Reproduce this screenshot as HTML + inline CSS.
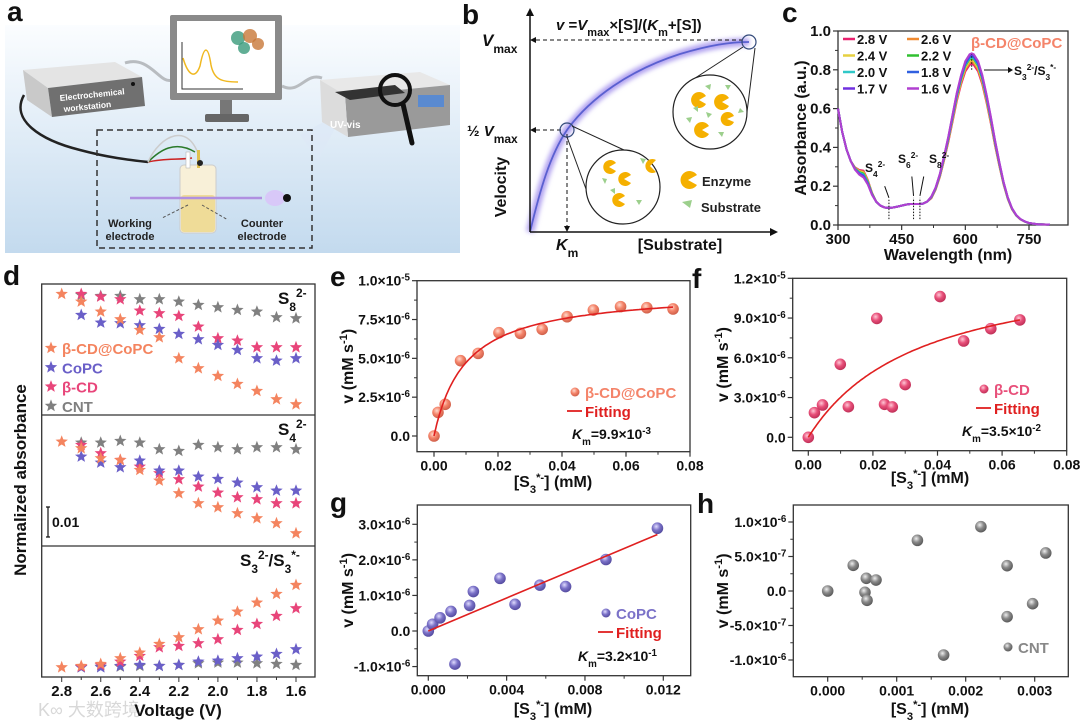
<!DOCTYPE html>
<html><head><meta charset="utf-8"><style>
html,body{margin:0;padding:0;background:#fff;}
svg{display:block;font-family:"Liberation Sans","Noto Sans CJK SC",sans-serif;}
</style></head><body>
<svg id="fig" width="1080" height="721" viewBox="0 0 1080 721" xmlns="http://www.w3.org/2000/svg">
<defs>
<linearGradient id="bgA" x1="0" y1="0" x2="0" y2="1"><stop offset="0" stop-color="#fbfdff"/><stop offset="1" stop-color="#c3daee"/></linearGradient>
<radialGradient id="ballE" cx="40%" cy="35%" r="65%"><stop offset="0" stop-color="#ffd9cc"/><stop offset="0.5" stop-color="#f4846a"/><stop offset="1" stop-color="#d0604a"/></radialGradient>
<radialGradient id="ballF" cx="40%" cy="35%" r="65%"><stop offset="0" stop-color="#ffc8d6"/><stop offset="0.5" stop-color="#e8507a"/><stop offset="1" stop-color="#c03058"/></radialGradient>
<radialGradient id="ballG" cx="40%" cy="35%" r="65%"><stop offset="0" stop-color="#e0dcff"/><stop offset="0.5" stop-color="#7b72c8"/><stop offset="1" stop-color="#554ca0"/></radialGradient>
<radialGradient id="ballH" cx="40%" cy="35%" r="65%"><stop offset="0" stop-color="#eeeeee"/><stop offset="0.5" stop-color="#8a8a8a"/><stop offset="1" stop-color="#5a5a5a"/></radialGradient>
<filter id="glow"><feGaussianBlur stdDeviation="2.5"/></filter>
</defs>

<!-- Panel a -->
<g>
<rect x="5" y="25" width="455" height="228" fill="url(#bgA)"/>
<path d="M125,63 C150,55 160,85 172,80" stroke="#b8bcc0" stroke-width="3" fill="none"/>
<path d="M282,86 C300,95 305,72 322,78" stroke="#b8bcc0" stroke-width="3" fill="none"/>
<g>
<polygon points="23,70 115,62 142,77 48,88" fill="#e4e4e4"/>
<polygon points="23,70 48,88 52,117 27,100" fill="#c9c9c9"/>
<polygon points="48,88 142,77 145,106 52,117" fill="#707070"/>
<circle cx="133" cy="84" r="2" fill="#111"/>
<text x="60" y="101" font-size="8.5" fill="#fff" font-weight="bold" transform="rotate(-6 60 101)">Electrochemical</text>
<text x="64" y="112" font-size="8.5" fill="#fff" font-weight="bold" transform="rotate(-6 64 112)">workstation</text>
</g>
<path d="M24,95 C10,120 40,140 80,150 C110,158 130,160 148,162" stroke="#222" stroke-width="2.5" fill="none"/>
<g>
<rect x="170" y="15" width="112" height="85" fill="#8a8a8a" rx="2"/>
<rect x="177" y="21" width="98" height="72" fill="#fff"/>
<rect x="220" y="100" width="12" height="15" fill="#777"/>
<rect x="205" y="114" width="44" height="8" fill="#666" rx="2"/>
<path d="M182,42 L182,89 L243,89" stroke="#333" stroke-width="1" fill="none"/>
<path d="M183,58 C188,75 195,80 200,66 C204,45 208,45 211,65 C214,80 222,82 238,82" stroke="#f0b820" stroke-width="1.5" fill="none"/>
<circle cx="238" cy="38" r="7" fill="#3a9a7a" opacity="0.8"/><circle cx="250" cy="36" r="7" fill="#c87838" opacity="0.8"/><circle cx="258" cy="44" r="6" fill="#c87838" opacity="0.8"/><circle cx="244" cy="48" r="6" fill="#3a9a7a" opacity="0.8"/>
</g>
<polygon points="300,135 345,110 318,160" fill="#dde8f6" opacity="0.7"/>
<g>
<polygon points="320,80 420,72 450,85 345,95" fill="#e8e8e8"/>
<polygon points="345,95 450,85 450,125 348,137" fill="#9a9a9a"/>
<polygon points="320,80 345,95 348,137 322,122" fill="#dcdcdc"/>
<polygon points="335,92 395,85 405,93 350,100" fill="#333"/>
<rect x="418" y="95" width="26" height="12" fill="#5a8ad0"/>
<text x="330" y="128" font-size="10" fill="#fff" font-weight="bold">UV-vis</text>
<circle cx="395" cy="90" r="15" fill="none" stroke="#111" stroke-width="4"/>
<line x1="403" y1="104" x2="412" y2="143" stroke="#111" stroke-width="5" stroke-linecap="round"/>
</g>
<rect x="97" y="130" width="215" height="118" fill="none" stroke="#333" stroke-width="1.5" stroke-dasharray="6,4"/>
<g>
<path d="M148,162 C165,158 178,160 192,158" stroke="#cc2222" stroke-width="1.5" fill="none"/>
<path d="M148,162 C160,150 175,140 195,152" stroke="#2a7a2a" stroke-width="1.5" fill="none"/>
<path d="M148,162 C160,135 190,120 200,160" stroke="#ccc" stroke-width="1.5" fill="none"/>
<rect x="180" y="165" width="36" height="68" rx="4" fill="#f8f0d8" stroke="#ccc"/>
<rect x="181" y="195" width="34" height="37" rx="3" fill="#efdc98"/>
<rect x="186" y="152" width="4" height="16" fill="#fff" stroke="#aaa" stroke-width="0.5"/>
<rect x="197" y="150" width="3" height="18" fill="#e0c050"/>
<circle cx="200" cy="163" r="3" fill="#222"/>
</g>
<line x1="130" y1="198" x2="262" y2="198" stroke="#b090e0" stroke-width="2.5"/>
<g><ellipse cx="275" cy="198" rx="10" ry="8" fill="#d8c8f8"/><circle cx="287" cy="198" r="4" fill="#111"/></g>
<line x1="188" y1="205" x2="162" y2="218" stroke="#555" stroke-dasharray="3,2"/>
<line x1="202" y1="205" x2="228" y2="220" stroke="#555" stroke-dasharray="3,2"/>
<text x="130" y="227" font-size="11" font-weight="bold" text-anchor="middle" fill="#222"><tspan x="130">Working</tspan><tspan x="130" dy="13">electrode</tspan></text>
<text x="262" y="227" font-size="11" font-weight="bold" text-anchor="middle" fill="#222"><tspan x="262">Counter</tspan><tspan x="262" dy="13">electrode</tspan></text>
</g>

<!-- Panel b -->
<g>
<path d="M530,232 C540,190 550,155 567,130 C590,98 630,70 680,54 C710,45 730,42 749,42" stroke="#b0a0f0" stroke-width="8" fill="none" filter="url(#glow)"/>
<path d="M530,232 C540,190 550,155 567,130 C590,98 630,70 680,54 C710,45 730,42 749,42" stroke="#5a60d0" stroke-width="1.8" fill="none"/>
<line x1="530" y1="232" x2="530" y2="14" stroke="#111" stroke-width="1.5"/>
<polygon points="526,16 534,16 530,8" fill="#111"/>
<line x1="530" y1="232" x2="772" y2="232" stroke="#111" stroke-width="1.5"/>
<polygon points="770,228 770,236 778,232" fill="#111"/>
<line x1="536" y1="40" x2="742" y2="40" stroke="#111" stroke-dasharray="4,3"/><polygon points="536,37 536,43 530,40" fill="#111"/>
<line x1="536" y1="130" x2="562" y2="130" stroke="#111" stroke-dasharray="4,3"/><polygon points="536,127 536,133 530,130" fill="#111"/>
<line x1="567" y1="134" x2="567" y2="226" stroke="#111" stroke-dasharray="4,3"/><polygon points="564,226 570,226 567,232" fill="#111"/>
<circle cx="749" cy="42" r="7" fill="none" stroke="#334a7a" stroke-width="1.2"/>
<circle cx="567" cy="130" r="7" fill="none" stroke="#334a7a" stroke-width="1.2"/>
<line x1="743" y1="47" x2="686" y2="84" stroke="#222"/><line x1="755" y1="48" x2="747" y2="112" stroke="#222"/>
<line x1="572" y1="126" x2="624" y2="150" stroke="#222"/><line x1="567" y1="137" x2="590" y2="200" stroke="#222"/>
<circle cx="710" cy="112" r="37" fill="#fff" stroke="#222" stroke-width="1.2"/>
<circle cx="623" cy="187" r="37" fill="#fff" stroke="#222" stroke-width="1.2"/>
<g fill="#f5b000"><path d="M699,100 L706,96 A8,8 0 1 0 706,104 Z"/><path d="M722,102 L729,98 A8,8 0 1 0 729,106 Z"/><path d="M727,119 L734,116 A7,7 0 1 0 734,122 Z"/><path d="M702,130 L709,126 A8,8 0 1 0 709,134 Z"/>
<path d="M609,167 L616,163 A7,7 0 1 0 616,171 Z"/><path d="M650,166 L656,160 A7,7 0 1 0 656,172 Z"/><path d="M624,179 L631,175 A7,7 0 1 0 631,183 Z"/><path d="M618,200 L625,196 A7,7 0 1 0 625,204 Z"/>
<path d="M688,180 L697,175 A9,9 0 1 0 697,185 Z"/></g>
<g fill="#9ccf8c"><path d="M705,86 l6,-2 l-1,6z"/><path d="M725,85 l6,0 l-3,5z"/><path d="M686,118 l6,-1 l-2,6z"/><path d="M740,108 l4,4 l-6,1z"/><path d="M718,132 l6,0 l-2,5z"/><path d="M706,112 l6,2 l-4,4z"/><path d="M693,108 l5,-2 l0,6z"/>
<path d="M610,190 l5,-2 l0,6z"/><path d="M640,158 l6,1 l-3,5z"/><path d="M636,200 l6,0 l-3,5z"/><path d="M602,178 l5,1 l-2,5z"/>
<path d="M682,202 l10,-2 l-2,8z"/></g>
<text x="556" y="30" font-size="15" font-weight="bold" fill="#111"><tspan font-style="italic">v</tspan> =<tspan font-style="italic">V</tspan><tspan font-size="11" baseline-shift="sub">max</tspan>×[S]/(<tspan font-style="italic">K</tspan><tspan font-size="11" baseline-shift="sub">m</tspan>+[S])</text>
<text x="482" y="46" font-size="17" font-weight="bold" fill="#111"><tspan font-style="italic">V</tspan><tspan font-size="12" baseline-shift="sub">max</tspan></text>
<text x="467" y="136" font-size="15" font-weight="bold" fill="#111">½ <tspan font-style="italic">V</tspan><tspan font-size="12" baseline-shift="sub">max</tspan></text>
<text x="556" y="250" font-size="16" font-weight="bold" fill="#111"><tspan font-style="italic">K</tspan><tspan font-size="12" baseline-shift="sub">m</tspan></text>
<text x="680" y="250" font-size="16" font-weight="bold" fill="#111" text-anchor="middle">[Substrate]</text>
<text x="506" y="187" font-size="16" font-weight="bold" fill="#111" text-anchor="middle" transform="rotate(-90 506 187)">Velocity</text>
<text x="702" y="186" font-size="13" font-weight="bold" fill="#222">Enzyme</text>
<text x="701" y="212" font-size="13" font-weight="bold" fill="#222">Substrate</text>
</g>

<!-- panel letters -->
<g font-size="28" font-weight="bold" fill="#111">
<text x="7" y="21">a</text>
<text x="462" y="24">b</text>
<text x="782" y="22">c</text>
<text x="3" y="285">d</text>
<text x="330" y="286">e</text>
<text x="692" y="288">f</text>
<text x="330" y="512">g</text>
<text x="697" y="513">h</text>
</g>
<text x="38" y="716" font-size="18" fill="#d8d8d8">K∞ 大数跨境</text>
<g id="charts"></g>
</svg>
<script>
// ---------- data: panel c ----------
const cVoltages = ['2.8 V','2.6 V','2.4 V','2.2 V','2.0 V','1.8 V','1.7 V','1.6 V'];
const cColors = ['#e8206e','#f08a30','#e6d040','#30c030','#30c8c8','#3060e0','#7030e0','#b040d0'];
const cPeak = [0.83,0.84,0.85,0.86,0.865,0.87,0.88,0.885];
const cShoulder = [0.29,0.285,0.28,0.275,0.27,0.265,0.26,0.255];
const cWave = [300,310,320,330,340,350,360,370,380,390,400,410,420,430,440,450,460,470,480,490,500,510,520,530,540,550,560,570,580,590,600,610,615,620,630,640,650,660,670,680,690,700,710,720,730,740,750,770,800,840];
const cAbs  = [0.60,0.48,0.39,0.33,0.29,0.27,0.26,0.22,0.16,0.12,0.10,0.09,0.088,0.09,0.095,0.10,0.105,0.108,0.108,0.108,0.11,0.12,0.145,0.19,0.26,0.35,0.45,0.56,0.67,0.76,0.83,0.865,0.87,0.865,0.83,0.76,0.66,0.55,0.43,0.32,0.22,0.14,0.085,0.05,0.03,0.018,0.01,0.004,0.002,0.0];
const cXTicks = [300,450,600,750];
const cYTicks = [0,0.2,0.4,0.6,0.8,1.0];
const cYLabels = ['0.0','0.2','0.4','0.6','0.8','1.0'];

// ---------- data: panel d (star y-readings, relative absorbance units, larger = lower) ----------
const dVolt = [2.8,2.7,2.6,2.5,2.4,2.3,2.2,2.1,2.0,1.9,1.8,1.7,1.6];
const dXLabels = ['2.8','2.6','2.4','2.2','2.0','1.8','1.6'];
const s8_bcdcopc = [102,125,155,178,210,232,295,325,348,372,393,418,433];
const s8_copc = [null,165,188,190,196,207,222,238,255,270,295,302,295];
const s8_bcd = [null,102,110,118,152,160,168,200,235,242,262,262,262];
const s8_cnt = [null,105,108,108,118,118,125,135,142,150,155,172,175];
const s4_bcdcopc = [545,565,595,600,630,662,700,730,742,760,775,790,820];
const s4_copc = [null,590,608,622,602,632,632,650,657,668,682,692,692];
const s4_bcd = [null,555,580,600,620,640,658,680,698,712,718,730,730];
const s4_cnt = [null,548,548,543,548,568,573,555,562,568,562,562,568];
const s3_bcdcopc = [1222,1218,1212,1195,1178,1152,1132,1108,1082,1055,1028,1002,975];
const s3_bcd = [null,1220,1215,1205,1188,1162,1158,1150,1138,1110,1092,1068,1045];
const s3_copc = [null,1222,1222,1218,1215,1218,1215,1205,1202,1195,1190,1182,1168];
const s3_cnt = [null,1222,1220,1220,1218,1218,1215,1210,1208,1208,1210,1212,1215];

// ---------- data: panel e ----------
const eX = [0,0.00125,0.0035,0.0083,0.0138,0.0203,0.027,0.0338,0.0416,0.0498,0.0583,0.0665,0.0747];
const eY = [0,1.52e-6,2.04e-6,4.85e-6,5.32e-6,6.65e-6,6.61e-6,6.87e-6,7.68e-6,8.11e-6,8.33e-6,8.26e-6,8.18e-6];
const eFit = [9.4e-6, 9.9e-3];
const eXTicks = [0,0.02,0.04,0.06,0.08];
const eXLabels = ['0.00','0.02','0.04','0.06','0.08'];
const eYTicks = [0,2.5e-6,5e-6,7.5e-6,1e-5];
const eYLabels = ['0.0','2.5×10^{-6}','5.0×10^{-6}','7.5×10^{-6}','1.0×10^{-5}'];
// ---------- data: panel f ----------
const fX = [0,0.0019,0.0044,0.0099,0.0124,0.0212,0.0236,0.026,0.030,0.0408,0.0481,0.0565,0.0655];
const fY = [0,1.86e-6,2.44e-6,5.51e-6,2.31e-6,8.97e-6,2.49e-6,2.29e-6,3.98e-6,10.62e-6,7.27e-6,8.20e-6,8.86e-6];
const fFit = [13.6e-6, 3.5e-2];
const fXTicks = [0,0.02,0.04,0.06,0.08];
const fXLabels = ['0.00','0.02','0.04','0.06','0.08'];
const fYTicks = [0,3e-6,6e-6,9e-6,1.2e-5];
const fYLabels = ['0.0','3.0×10^{-6}','6.0×10^{-6}','9.0×10^{-6}','1.2×10^{-5}'];
// ---------- data: panel g ----------
const gX = [0,0.00022,0.0006,0.00116,0.00136,0.00211,0.0023,0.00366,0.00443,0.0057,0.00701,0.00907,0.0117];
const gY = [0,0.19e-6,0.37e-6,0.55e-6,-0.93e-6,0.72e-6,1.11e-6,1.48e-6,0.75e-6,1.29e-6,1.25e-6,2.01e-6,2.89e-6];
const gFit = [2.32e-4, 0.0117];
const gXTicks = [0,0.004,0.008,0.012];
const gXLabels = ['0.000','0.004','0.008','0.012'];
const gYTicks = [-1e-6,0,1e-6,2e-6,3e-6];
const gYLabels = ['-1.0×10^{-6}','0.0','1.0×10^{-6}','2.0×10^{-6}','3.0×10^{-6}'];
// ---------- data: panel h ----------
const hX = [0,0.00037,0.00054,0.00056,0.00057,0.0007,0.0013,0.00168,0.00222,0.0026,0.0026,0.00297,0.00316];
const hY = [0,3.72e-7,-0.19e-7,1.84e-7,-1.35e-7,1.59e-7,7.34e-7,-9.28e-7,9.32e-7,3.67e-7,-3.72e-7,-1.84e-7,5.51e-7];
const hXTicks = [0,0.001,0.002,0.003];
const hXLabels = ['0.000','0.001','0.002','0.003'];
const hYTicks = [-1e-6,-5e-7,0,5e-7,1e-6];
const hYLabels = ['-1.0×10^{-6}','-5.0×10^{-7}','0.0','5.0×10^{-7}','1.0×10^{-6}'];

const NS = 'http://www.w3.org/2000/svg';
const root = document.getElementById('charts');
function mk(tag, attrs, parent){ const e=document.createElementNS(NS,tag); for(const k in attrs) e.setAttribute(k,attrs[k]); (parent||root).appendChild(e); return e; }
function rich(t, str){
  const parts = str.split(/(\^\{[^}]*\}|_\{[^}]*\}|~\{[^}]*\})/);
  parts.forEach(p=>{ if(!p) return; const s=document.createElementNS(NS,'tspan');
    if(p[0]==='^'){ s.textContent=p.slice(2,-1); s.setAttribute('baseline-shift','super'); s.setAttribute('font-size','70%'); }
    else if(p[0]==='_'){ s.textContent=p.slice(2,-1); s.setAttribute('baseline-shift','sub'); s.setAttribute('font-size','70%'); }
    else if(p[0]==='~'){ s.textContent=p.slice(2,-1); s.setAttribute('font-style','italic'); }
    else s.textContent=p;
    t.appendChild(s); });
}
function txt(str, attrs, parent){ const t=mk('text',attrs,parent); rich(t,str); return t; }
function lin(d0,d1,r0,r1){ return v=> r0+(v-d0)*(r1-r0)/(d1-d0); }

function frame(g, box, xs, ys, xT, xL, yT, yL, fs){
  const r=mk('rect',{x:box[0],y:box[1],width:box[2]-box[0],height:box[3]-box[1],fill:'none',stroke:'#333','stroke-width':1.3},g);
  
  
  xT.forEach((v,i)=>{ const x=xs(v);
    const tk=mk('line',{x1:x,x2:x,y1:box[3],y2:box[3]+5,stroke:'#333','stroke-width':1.2},g);
    
    
    if(i<xT.length-1){ const mx=xs((v+xT[i+1])/2); mk('line',{x1:mx,x2:mx,y1:box[3],y2:box[3]+3,stroke:'#333'},g); }
    const t=txt(xL[i],{x:x,y:box[3]+19,'font-size':fs,'font-weight':'bold','text-anchor':'middle',fill:'#111'},g);
    
    
  });
  yT.forEach((v,i)=>{ const y=ys(v);
    const tk=mk('line',{x1:box[0]-5,x2:box[0],y1:y,y2:y,stroke:'#333','stroke-width':1.2},g);
    
    
    if(i<yT.length-1){ const my=ys((v+yT[i+1])/2); mk('line',{x1:box[0]-3,x2:box[0],y1:my,y2:my,stroke:'#333'},g); }
    const t=txt(yL[i],{x:box[0]-7,y:y+5,'font-size':fs,'font-weight':'bold','text-anchor':'end',fill:'#111'},g);
    
    
  });
}

// ---------- Panel c ----------
(function(){
  const g=mk('g',{});
  
  
  const box=[838,31,1068,225];
  const xs=lin(300,750,838,1029), ys=lin(0,1,225,31);
  frame(g,box,xs,ys,cXTicks,cXTicks.map(String),cYTicks,cYLabels,15);
  cVoltages.forEach((v,si)=>{
    const pts=cWave.map((w,i)=>{ let a=cAbs[i];
      if(w>=520) a=a*cPeak[si]/0.87;
      if(w>=330&&w<=390){ const bump=1-Math.abs(w-360)/30; a+= (cShoulder[si]-0.27)*bump; }
      return xs(Math.min(w,797)).toFixed(1)+','+ys(a).toFixed(1); });
    const p=mk('polyline',{points:pts.join(' '),fill:'none',stroke:cColors[si],'stroke-width':2},g);
    
    
    const col=si%2, row=Math.floor(si/2);
    const lx=col?907:843, ly=43+row*16.5;
    const l=mk('line',{x1:lx,x2:lx+12,y1:ly-4,y2:ly-4,stroke:cColors[si],'stroke-width':2.5},g);
    
    
    const t=mk('text',{x:lx+14,y:ly+1,'font-size':13,'font-weight':'bold',fill:'#111'},g); t.textContent=v;
    
    
  });
  const t1=mk('text',{x:971,y:48,'font-size':15,'font-weight':'bold',fill:'#f4846a'},g); t1.textContent='β-CD@CoPC';
  
  
  const t2=txt('S_{3}^{2-}/S_{3}^{*-}',{x:1014,y:75,'font-size':12,'font-weight':'bold',fill:'#111'},g);
  
  
  mk('line',{x1:984,x2:1010,y1:70,y2:70,stroke:'#111'},g); mk('polygon',{points:'1008,67 1008,73 1013,70',fill:'#111'},g);
  [[420,0.03,0.13],[478,0.03,0.14],[493,0.03,0.14],[615,0.8,0.88]].forEach(d=>mk('line',{x1:xs(d[0]),x2:xs(d[0]),y1:ys(d[1]),y2:ys(d[2]),stroke:'#111','stroke-dasharray':'1.5,1.5'},g));
  mk('line',{x1:xs(420),y1:ys(0.14),x2:xs(410),y2:ys(0.2),stroke:'#111'},g);
  mk('line',{x1:xs(478),y1:ys(0.15),x2:xs(474),y2:ys(0.25),stroke:'#111'},g);
  mk('line',{x1:xs(493),y1:ys(0.15),x2:xs(502),y2:ys(0.25),stroke:'#111'},g);
  [['S_{4}^{2-}',865,172],['S_{6}^{2-}',898,163],['S_{8}^{2-}',929,163]].forEach(a=>{ const t=txt(a[0],{x:a[1],y:a[2],'font-size':12,'font-weight':'bold',fill:'#111'},g);
    
     });
  const xt=mk('text',{x:948,y:260,'font-size':16,'font-weight':'bold','text-anchor':'middle',fill:'#111'},g); xt.textContent='Wavelength (nm)';
  
  
  const yt=mk('text',{x:806,y:128,'font-size':16,'font-weight':'bold','text-anchor':'middle',fill:'#111',transform:'rotate(-90 806 128)'},g); yt.textContent='Absorbance (a.u.)';
  
  
})();

// ---------- Panel d ----------
function starPath(cx,cy,R,r){ let d=''; for(let i=0;i<10;i++){ const a=-Math.PI/2+i*Math.PI/5, rr=i%2?r:R; d+=(i?'L':'M')+(cx+rr*Math.cos(a)).toFixed(1)+','+(cy+rr*Math.sin(a)).toFixed(1); } return d+'Z'; }
(function(){
  const g=mk('g',{});
  
  
  const xs=lin(2.8,1.6,61.7,296), ys=v=>260+v/3;
  const fr=mk('rect',{x:41.7,y:284,width:273.3,height:393,fill:'none',stroke:'#333','stroke-width':1.3},g);
  
  
  [415,546].forEach(y=>{ const l=mk('line',{x1:41.7,x2:315,y1:y,y2:y,stroke:'#333','stroke-width':1.3},g);
    
     });
  dVolt.forEach(v=>{ const x=xs(v); mk('line',{x1:x,x2:x,y1:677,y2:Math.round(v*10)%2===0?682:680,stroke:'#333'},g); });
  dXLabels.forEach(s=>{ const t=mk('text',{x:xs(+s),y:696,'font-size':15,'font-weight':'bold','text-anchor':'middle',fill:'#111'},g); t.textContent=s;
    
     });
  const series=[
    [s8_cnt,'#808080'],[s8_bcd,'#e8457a'],[s8_copc,'#6a5fc8'],[s8_bcdcopc,'#f4845f'],
    [s4_cnt,'#808080'],[s4_bcd,'#e8457a'],[s4_copc,'#6a5fc8'],[s4_bcdcopc,'#f4845f'],
    [s3_cnt,'#808080'],[s3_copc,'#6a5fc8'],[s3_bcd,'#e8457a'],[s3_bcdcopc,'#f4845f']];
  series.forEach(s=>{ s[0].forEach((v,i)=>{ if(v===null) return;
    const p=mk('path',{d:starPath(xs(dVolt[i]),ys(v),6.5,2.8),fill:s[1]},g);
    
     }); });
  [['β-CD@CoPC','#f4845f'],['CoPC','#6a5fc8'],['β-CD','#e8457a'],['CNT','#808080']].forEach((e,i)=>{
    const y=348+i*19.3;
    const p=mk('path',{d:starPath(51,y,6.5,2.8),fill:e[1]},g);
    
    
    const t=mk('text',{x:62,y:y+6,'font-size':15,'font-weight':'bold',fill:e[1]},g); t.textContent=e[0];
    
    
  });
  [['S_{8}^{2-}',278,304],['S_{4}^{2-}',278,435],['S_{3}^{2-}/S_{3}^{*-}',240,566]].forEach(a=>{ const t=txt(a[0],{x:a[1],y:a[2],'font-size':17,'font-weight':'bold',fill:'#111'},g);
    
     });
  const sb=mk('path',{d:'M46,507 L50,507 M48,507 L48,537 M46,537 L50,537',stroke:'#111','stroke-width':1.2},g);
  
  
  const st=mk('text',{x:52,y:527,'font-size':14,'font-weight':'bold',fill:'#111'},g); st.textContent='0.01';
  
  
  const xt=mk('text',{x:178,y:716,'font-size':17,'font-weight':'bold','text-anchor':'middle',fill:'#111'},g); xt.textContent='Voltage (V)';
  
  
  const yt=mk('text',{x:26,y:480,'font-size':17,'font-weight':'bold','text-anchor':'middle',fill:'#111',transform:'rotate(-90 26 480)'},g); yt.textContent='Normalized absorbance';
  
  
})();

// ---------- Scatter panels e-h ----------
function scatterPanel(name, box, xs, ys, X, Y, xT, xL, yT, yL, ball, ytx, xtc, xty, xtitle){
  const g=mk('g',{});
  
  
  frame(g,box,xs,ys,xT,xL,yT,yL,14);
  X.forEach((x,i)=>{ const c=mk('circle',{cx:xs(x),cy:ys(Y[i]),r:5.8,fill:'url(#'+ball+')'},g);
    
     });
  const yt=txt('v (mM s^{-1})',{x:ytx,y:(box[1]+box[3])/2,'font-size':16,'font-weight':'bold','text-anchor':'middle',fill:'#111',transform:'rotate(-90 '+ytx+' '+(box[1]+box[3])/2+')'},g);
  
  
  const xt=txt(xtitle,{x:xtc,y:xty,'font-size':16,'font-weight':'bold','text-anchor':'middle',fill:'#111'},g);
  
  
  return g;
}
function legend(g, bx, by, label, color, ball, km, kx, ky){
  const c=mk('circle',{cx:bx,cy:by,r:4.5,fill:'url(#'+ball+')'},g);
  
  
  const t=mk('text',{x:bx+10,y:by+6,'font-size':15,'font-weight':'bold',fill:color},g); t.textContent=label;
  
  
  if(km){
    const l=mk('line',{x1:bx-8,x2:bx+7,y1:by+19,y2:by+19,stroke:'#e02020','stroke-width':1.8},g);
    
    
    const f=mk('text',{x:bx+10,y:by+25,'font-size':15,'font-weight':'bold',fill:'#e02020'},g); f.textContent='Fitting';
    
    
    const k=txt('~{K}_{m}=' + km,{x:kx,y:ky,'font-size':14,'font-weight':'bold',fill:'#111'},g);
    
    
  }
}
function mmCurve(g, xs, ys, Vm, Km, x1){
  const pts=[]; for(let i=0;i<=120;i++){ const x=x1*Math.pow(i/120,1.6); pts.push(xs(x).toFixed(1)+','+ys(Vm*x/(Km+x)).toFixed(1)); }
  const p=mk('polyline',{points:pts.join(' '),fill:'none',stroke:'#e02020','stroke-width':1.6},g);
  
  
}
(function(){
  const xs=lin(0,0.08,434,690), ys=lin(0,1e-5,436,280.7);
  const g=scatterPanel('panel-e-beta-cd-copc-kinetics',[417,280.7,690,451.7],xs,ys,eX,eY,eXTicks,eXLabels,eYTicks,eYLabels,'ballE',353,553,487,'[S_{3}^{*-}] (mM)');
  mmCurve(g,xs,ys,eFit[0],eFit[1],eX[eX.length-1]);
  legend(g,575,392,'β-CD@CoPC','#f4846a','ballE','9.9×10^{-3}',572,439);
})();
(function(){
  const xs=lin(0,0.08,808.3,1066.7), ys=lin(0,1.2e-5,437.3,278.3);
  const g=scatterPanel('panel-f-beta-cd-kinetics',[792.7,278.3,1066.7,450.7],xs,ys,fX,fY,fXTicks,fXLabels,fYTicks,fYLabels,'ballF',728,930,483,'[S_{3}^{*-}] (mM)');
  mmCurve(g,xs,ys,fFit[0],fFit[1],fX[fX.length-1]);
  legend(g,984,389,'β-CD','#e8507a','ballF','3.5×10^{-2}',962,436);
})();
(function(){
  const xs=lin(0,0.012,428.3,663.3), ys=lin(0,3e-6,631,524.3);
  const g=scatterPanel('panel-g-copc-kinetics',[417.3,505,690.7,675.7],xs,ys,gX,gY,gXTicks,gXLabels,gYTicks,gYLabels,'ballG',353,553,714,'[S_{3}^{*-}] (mM)');
  const l=mk('line',{x1:xs(0),y1:ys(0),x2:xs(gFit[1]),y2:ys(gFit[0]*gFit[1]),stroke:'#e02020','stroke-width':1.6},g);
  
  
  legend(g,606,613,'CoPC','#7b72c8','ballG','3.2×10^{-1}',578,661);
})();
(function(){
  const xs=lin(0,0.003,827.7,1034.7), ys=lin(0,1e-6,591,522);
  const g=scatterPanel('panel-h-cnt-kinetics',[793.3,505,1068.3,676.7],xs,ys,hX,hY,hXTicks,hXLabels,hYTicks,hYLabels,'ballH',728,930,714,'[S_{3}^{*-}] (mM)');
  legend(g,1008,647,'CNT','#888','ballH',null);
})();
</script>
</body></html>
